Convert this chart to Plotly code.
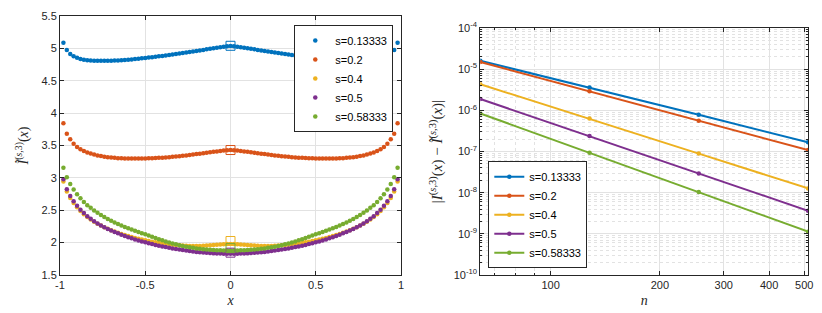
import math
import plotly.graph_objects as go

# ---------------- data ----------------
S_LABELS = ["s=0.13333", "s=0.2", "s=0.4", "s=0.5", "s=0.58333"]
COLORS = ["#0072BD", "#D95319", "#EDB120", "#7E2F8E", "#77AC30"]

X = [-0.98, -0.96, -0.94, -0.92, -0.90, -0.88, -0.86, -0.84, -0.82, -0.80,
     -0.78, -0.76, -0.74, -0.72, -0.70, -0.68, -0.66, -0.64, -0.62, -0.60,
     -0.58, -0.56, -0.54, -0.52, -0.50, -0.48, -0.46, -0.44, -0.42, -0.40,
     -0.38, -0.36, -0.34, -0.32, -0.30, -0.28, -0.26, -0.24, -0.22, -0.20,
     -0.18, -0.16, -0.14, -0.12, -0.10, -0.08, -0.06, -0.04, -0.02, 0.00,
     0.02, 0.04, 0.06, 0.08, 0.10, 0.12, 0.14, 0.16, 0.18, 0.20,
     0.22, 0.24, 0.26, 0.28, 0.30, 0.32, 0.34, 0.36, 0.38, 0.40,
     0.42, 0.44, 0.46, 0.48, 0.50, 0.52, 0.54, 0.56, 0.58, 0.60,
     0.62, 0.64, 0.66, 0.68, 0.70, 0.72, 0.74, 0.76, 0.78, 0.80,
     0.82, 0.84, 0.86, 0.88, 0.90, 0.92, 0.94, 0.96, 0.98]

I_S1 = [5.085, 4.975, 4.915, 4.880, 4.855, 4.837, 4.826, 4.818, 4.813, 4.810,
        4.808, 4.807, 4.807, 4.808, 4.809, 4.811, 4.814, 4.817, 4.821, 4.825,
        4.830, 4.835, 4.840, 4.846, 4.852, 4.858, 4.864, 4.870, 4.877, 4.884,
        4.891, 4.898, 4.905, 4.912, 4.919, 4.927, 4.935, 4.943, 4.951, 4.959,
        4.967, 4.976, 4.985, 4.994, 5.002, 5.010, 5.018, 5.025, 5.031, 5.036,
        5.031, 5.025, 5.018, 5.010, 5.002, 4.994, 4.985, 4.976, 4.967, 4.959,
        4.951, 4.943, 4.935, 4.927, 4.919, 4.912, 4.905, 4.898, 4.891, 4.884,
        4.877, 4.870, 4.864, 4.858, 4.852, 4.846, 4.840, 4.835, 4.830, 4.825,
        4.821, 4.817, 4.814, 4.811, 4.809, 4.808, 4.807, 4.807, 4.808, 4.810,
        4.813, 4.818, 4.826, 4.837, 4.855, 4.880, 4.915, 4.975, 5.085]

I_S2 = [3.842, 3.682, 3.595, 3.528, 3.477, 3.441, 3.415, 3.392, 3.376, 3.361,
        3.347, 3.336, 3.327, 3.320, 3.314, 3.309, 3.305, 3.302, 3.300, 3.299,
        3.298, 3.298, 3.298, 3.299, 3.300, 3.302, 3.304, 3.306, 3.309, 3.312,
        3.316, 3.320, 3.325, 3.330, 3.335, 3.341, 3.347, 3.353, 3.360, 3.367,
        3.374, 3.381, 3.388, 3.395, 3.402, 3.409, 3.416, 3.422, 3.427, 3.430,
        3.427, 3.422, 3.416, 3.409, 3.402, 3.395, 3.388, 3.381, 3.374, 3.367,
        3.360, 3.353, 3.347, 3.341, 3.335, 3.330, 3.325, 3.320, 3.316, 3.312,
        3.309, 3.306, 3.304, 3.302, 3.300, 3.299, 3.298, 3.298, 3.298, 3.299,
        3.300, 3.302, 3.305, 3.309, 3.314, 3.320, 3.327, 3.336, 3.347, 3.361,
        3.376, 3.392, 3.415, 3.441, 3.477, 3.528, 3.595, 3.682, 3.842]

I_S3 = [2.945, 2.790, 2.690, 2.612, 2.545, 2.487, 2.438, 2.395, 2.357, 2.323,
        2.293, 2.265, 2.238, 2.214, 2.192, 2.172, 2.152, 2.134, 2.117, 2.101,
        2.086, 2.072, 2.059, 2.047, 2.036, 2.025, 2.015, 2.006, 1.997, 1.989,
        1.982, 1.975, 1.969, 1.963, 1.958, 1.954, 1.951, 1.949, 1.948, 1.948,
        1.949, 1.951, 1.954, 1.958, 1.962, 1.966, 1.970, 1.974, 1.977, 1.979,
        1.977, 1.974, 1.970, 1.966, 1.962, 1.958, 1.954, 1.951, 1.949, 1.948,
        1.948, 1.949, 1.951, 1.954, 1.958, 1.963, 1.969, 1.975, 1.982, 1.989,
        1.997, 2.006, 2.015, 2.025, 2.036, 2.047, 2.059, 2.072, 2.086, 2.101,
        2.117, 2.134, 2.152, 2.172, 2.192, 2.214, 2.238, 2.265, 2.293, 2.323,
        2.357, 2.395, 2.438, 2.487, 2.545, 2.612, 2.690, 2.790, 2.945]

I_S4 = [2.979, 2.826, 2.722, 2.640, 2.570, 2.509, 2.456, 2.409, 2.367, 2.330,
        2.297, 2.266, 2.238, 2.212, 2.188, 2.165, 2.144, 2.123, 2.103, 2.084,
        2.066, 2.049, 2.033, 2.018, 2.004, 1.990, 1.977, 1.965, 1.953, 1.942,
        1.931, 1.921, 1.911, 1.902, 1.893, 1.885, 1.877, 1.870, 1.863, 1.857,
        1.851, 1.846, 1.842, 1.838, 1.835, 1.833, 1.831, 1.830, 1.830, 1.830,
        1.830, 1.830, 1.831, 1.833, 1.835, 1.838, 1.842, 1.846, 1.851, 1.857,
        1.863, 1.870, 1.877, 1.885, 1.893, 1.902, 1.911, 1.921, 1.931, 1.942,
        1.953, 1.965, 1.977, 1.990, 2.004, 2.018, 2.033, 2.049, 2.066, 2.084,
        2.103, 2.123, 2.144, 2.165, 2.188, 2.212, 2.238, 2.266, 2.297, 2.330,
        2.367, 2.409, 2.456, 2.509, 2.570, 2.640, 2.722, 2.826, 2.979]

I_S5 = [3.158, 3.010, 2.907, 2.819, 2.748, 2.686, 2.629, 2.578, 2.537, 2.495,
        2.460, 2.426, 2.394, 2.364, 2.336, 2.310, 2.286, 2.264, 2.243, 2.223,
        2.203, 2.184, 2.165, 2.146, 2.128, 2.109, 2.090, 2.071, 2.053, 2.036,
        2.019, 2.003, 1.988, 1.974, 1.961, 1.949, 1.938, 1.928, 1.919, 1.911,
        1.904, 1.898, 1.893, 1.889, 1.886, 1.883, 1.881, 1.880, 1.879, 1.879,
        1.879, 1.880, 1.881, 1.883, 1.886, 1.889, 1.893, 1.898, 1.904, 1.911,
        1.919, 1.928, 1.938, 1.949, 1.961, 1.974, 1.988, 2.003, 2.019, 2.036,
        2.053, 2.071, 2.090, 2.109, 2.128, 2.146, 2.165, 2.184, 2.203, 2.223,
        2.243, 2.264, 2.286, 2.310, 2.336, 2.364, 2.394, 2.426, 2.460, 2.495,
        2.537, 2.578, 2.629, 2.686, 2.748, 2.819, 2.907, 3.010, 3.158]

BOX_X = [0.0]
BOX_VALUES = [5.040, 3.430, 2.025, 1.845, 1.915]

N = [64, 128, 256, 512]
ERR_S1 = [1.60e-5, 3.60e-6, 7.80e-7, 1.67e-7]
ERR_S2 = [1.49e-5, 2.90e-6, 5.60e-7, 1.08e-7]
ERR_S3 = [4.30e-6, 6.30e-7, 8.90e-8, 1.27e-8]
ERR_S4 = [1.88e-6, 2.37e-7, 2.94e-8, 3.65e-9]
ERR_S5 = [8.40e-7, 9.30e-8, 1.04e-8, 1.13e-9]

LEFT_XTICKS = [-1, -0.5, 0, 0.5, 1]
LEFT_XTEXT = ["-1", "-0.5", "0", "0.5", "1"]
LEFT_YTICKS = [1.5, 2, 2.5, 3, 3.5, 4, 4.5, 5, 5.5]
LEFT_YTEXT = ["1.5", "2", "2.5", "3", "3.5", "4", "4.5", "5", "5.5"]
RIGHT_XTICKS = [100, 200, 300, 400, 500]
RIGHT_XTEXT = ["100", "200", "300", "400", "500"]
RIGHT_XMINOR = [70, 80, 90]
RIGHT_YEXP = [-10, -9, -8, -7, -6, -5, -4]

I_SERIES = [I_S1, I_S2, I_S3, I_S4, I_S5]
ERR_SERIES = [ERR_S1, ERR_S2, ERR_S3, ERR_S4, ERR_S5]

# ---------------- figure ----------------
TICK_FONT = dict(family="Liberation Sans, Arial, sans-serif", size=11, color="#262626")
MATH_FONT = dict(family="Liberation Serif, Times New Roman, serif", size=14, color="#262626")
GRID = "#e2e2e2"

fig = go.Figure()

for lab, col, ys in zip(S_LABELS, COLORS, I_SERIES):
    fig.add_trace(go.Scatter(x=X, y=ys, mode="markers", name=lab,
                             marker=dict(color=col, size=4.5),
                             xaxis="x", yaxis="y", legend="legend"))
for col, v in zip(COLORS, BOX_VALUES):
    fig.add_trace(go.Scatter(x=BOX_X, y=[v], mode="markers", showlegend=False,
                             marker=dict(symbol="square-open", size=9, color=col,
                                         line=dict(width=1, color=col)),
                             xaxis="x", yaxis="y"))
for lab, col, es in zip(S_LABELS, COLORS, ERR_SERIES):
    fig.add_trace(go.Scatter(x=N, y=es, mode="lines+markers", name=lab,
                             line=dict(color=col, width=2),
                             marker=dict(color=col, size=4.5),
                             xaxis="x2", yaxis="y2", legend="legend2"))

common = dict(showline=True, linecolor="#262626", linewidth=1, mirror="ticks",
              ticks="inside", ticklen=4, tickcolor="#262626",
              showgrid=True, gridcolor=GRID, gridwidth=1, zeroline=False,
              tickfont=TICK_FONT, automargin=False)

ML, MR, MT, MB = 60, 14, 16, 38
PW = 822 - ML - MR
PH = 313 - MT - MB

minor_y = [k * 10.0 ** e for e in RIGHT_YEXP[:-1] for k in range(2, 10)]

fig.update_layout(
    width=822, height=313,
    margin=dict(l=ML, r=MR, t=MT, b=MB, pad=0, autoexpand=False),
    paper_bgcolor="white", plot_bgcolor="white",
    showlegend=True,
    xaxis=dict(common, domain=[0, (401 - ML) / PW], range=[-1, 1],
               tickvals=LEFT_XTICKS, ticktext=LEFT_XTEXT, anchor="y",
               title=dict(text="<i>x</i>", font=MATH_FONT, standoff=4)),
    yaxis=dict(common, domain=[0, 1], range=[1.5, 5.5],
               tickvals=LEFT_YTICKS, ticktext=LEFT_YTEXT, anchor="x",
               title=dict(text="<i>Ĩ</i><sup>(<i>s</i>,3)</sup>(<i>x</i>)",
                          font=MATH_FONT, standoff=9)),
    xaxis2=dict(common, type="log", domain=[(480.3 - ML) / PW, 1],
                range=[math.log10(N[0]), math.log10(N[-1])],
                tickvals=RIGHT_XTICKS, ticktext=RIGHT_XTEXT, anchor="y2",
                minor=dict(tickvals=RIGHT_XMINOR, ticks="inside", ticklen=2,
                           tickcolor="#262626", showgrid=True, gridcolor=GRID,
                           griddash="dot"),
                title=dict(text="<i>n</i>", font=MATH_FONT, standoff=4)),
    yaxis2=dict(common, type="log", domain=[0, (275.3 - 28.3) / PH],
                range=[RIGHT_YEXP[0], RIGHT_YEXP[-1]],
                tickvals=[10.0 ** e for e in RIGHT_YEXP],
                ticktext=["10<sup>%d</sup>" % e for e in RIGHT_YEXP],
                anchor="x2",
                minor=dict(tickvals=minor_y, ticks="inside", ticklen=2,
                           tickcolor="#262626", showgrid=True, gridcolor=GRID,
                           griddash="dot"),
                title=dict(text="|<i>I</i><sup>(<i>s</i>,3)</sup>(<i>x</i>) − "
                                "<i>Ĩ</i><sup>(<i>s</i>,3)</sup>(<i>x</i>)|",
                           font=dict(MATH_FONT, size=15), standoff=7)),
    legend=dict(x=(393.3 - ML) / PW, y=(275 - 25) / PH, xanchor="right", yanchor="top",
                bgcolor="white", bordercolor="#262626", borderwidth=1,
                font=dict(family="Liberation Sans, Arial, sans-serif", size=11,
                          color="#000000")),
    legend2=dict(x=(488.3 - ML) / PW, y=(275 - 268.3) / PH, xanchor="left",
                 yanchor="bottom", bgcolor="white", bordercolor="#262626",
                 borderwidth=1,
                 font=dict(family="Liberation Sans, Arial, sans-serif", size=11,
                           color="#000000")),
)

fig.write_html("out.html",
               config={"displayModeBar": False, "staticPlot": False},
               post_script="document.body.style.margin='0px';"
                           "document.body.style.padding='0px';"
                           "document.body.style.overflow='hidden';")
